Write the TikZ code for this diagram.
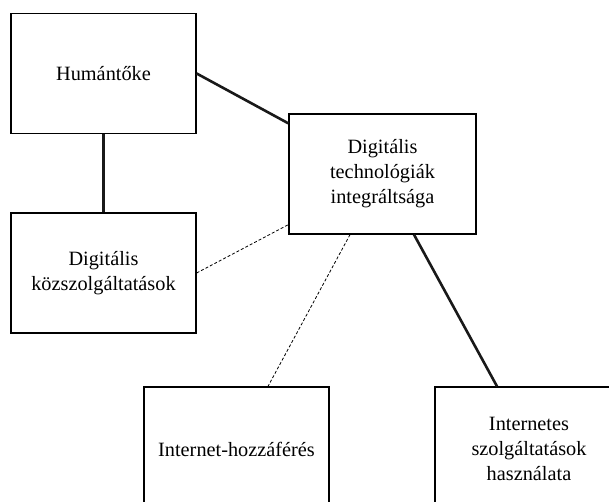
\documentclass[tikz,border=0pt]{standalone}
\usepackage{fontspec}
\setmainfont{Liberation Serif}
\begin{document}
\begin{tikzpicture}[x=1pt,y=-1pt,
  boxnode/.style={draw=black,line width=1.3pt,inner sep=0pt,minimum width=185pt,minimum height=120pt,align=center,font=\fontsize{20.3}{25}\selectfont},
  thickline/.style={line width=2.6pt,draw=black!90},
  dashline/.style={line width=0.8pt,dash pattern=on 3pt off 2pt,draw=black}]
\useasboundingbox (0,0) rectangle (609,502);
\clip (0,0) rectangle (609,502);
\node[boxnode] (h) at (103.5,73.5) {Humántőke};
\node[boxnode] (d) at (103.5,273) {Digitális\\közszolgáltatások};
\node[boxnode,minimum width=187pt] (c) at (382.5,174) {Digitális\\technológiák\\integráltsága};
\node[boxnode,minimum height=124pt] (i) at (236.5,449) {Internet-hozzáférés};
\node[boxnode,minimum width=188pt,minimum height=124pt] (u) at (529,449) {Internetes\\szolgáltatások\\használata};
\draw[thickline] (h.east) -- ([yshift=-10pt]c.north west);
\draw[thickline] (h.south) -- (d.north);
\draw[dashline] (d.east) -- ([yshift=10pt]c.south west);
\draw[dashline] ([xshift=-32.5pt]c.south) -- ([xshift=31.5pt]i.north);
\draw[thickline] ([xshift=31.5pt]c.south) -- ([xshift=-32pt]u.north);
\end{tikzpicture}
\end{document}
